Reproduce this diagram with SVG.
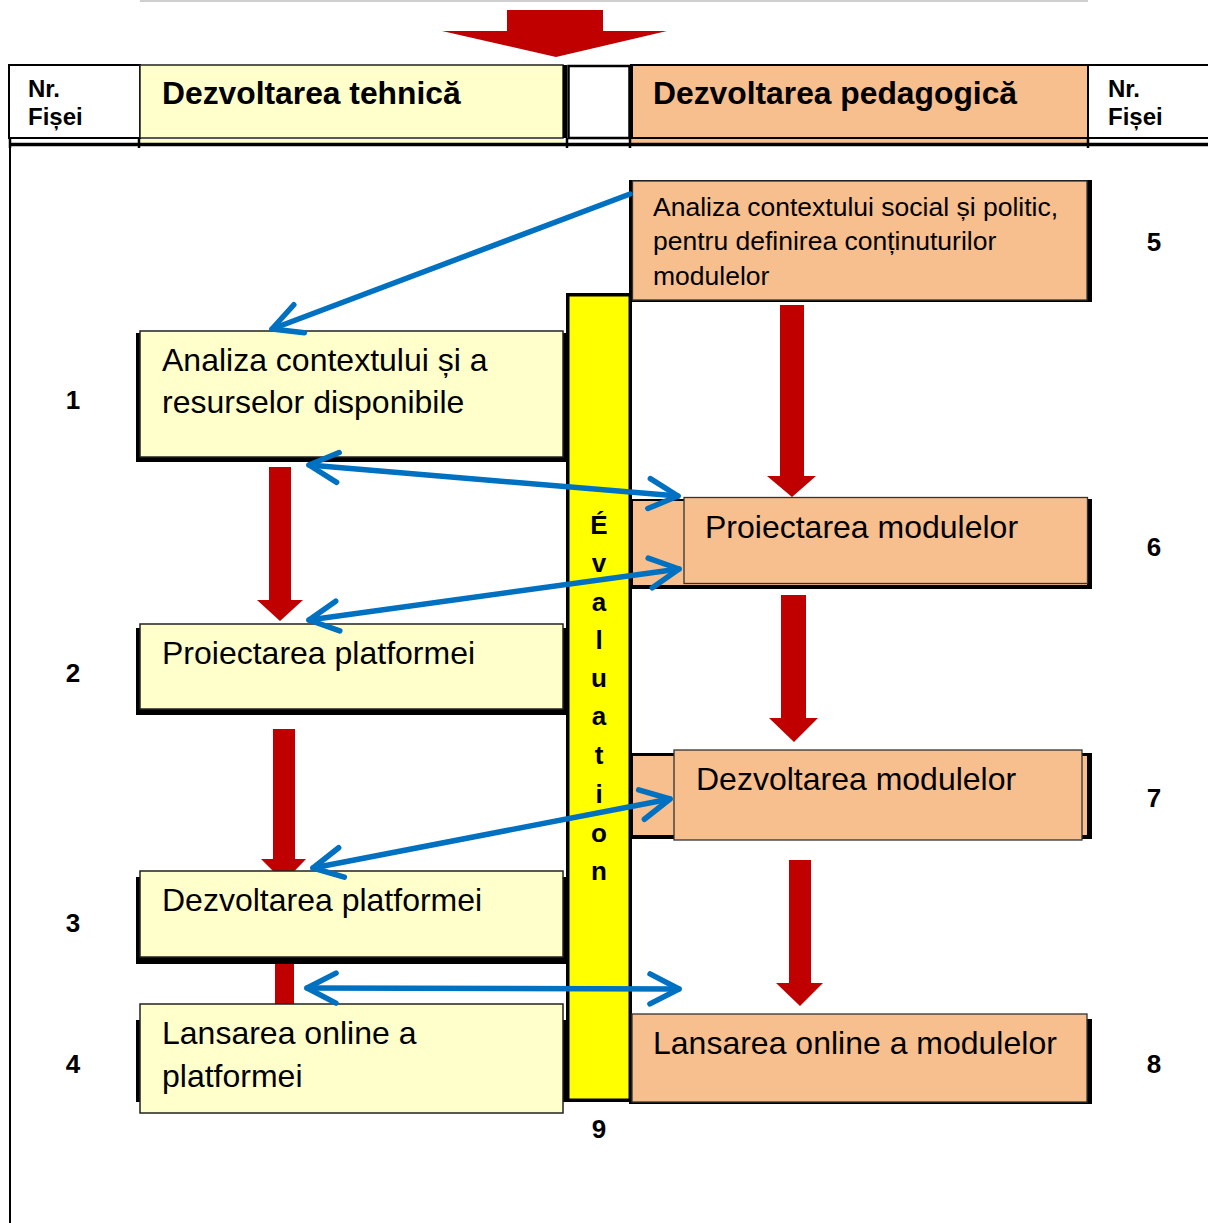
<svg xmlns="http://www.w3.org/2000/svg" width="1208" height="1223" viewBox="0 0 1208 1223">
<defs>
<style>
.t{font-family:"Liberation Sans",Arial,sans-serif;fill:#000}
.body{font-size:32px}
.small{font-size:26.5px}
.hd{font-size:31.8px;font-weight:bold}
.nr{font-size:24px;font-weight:bold}
.num{font-size:26px;font-weight:bold;text-anchor:middle}
.ev{font-size:26px;font-weight:bold;text-anchor:middle}
.yb{fill:#FFFFCC;stroke:#222;stroke-width:1.5}
.ob{fill:#F7BE8E;stroke:#333;stroke-width:1.3}
.blk{fill:#000}
.red{fill:#C00000}
.blue{fill:none;stroke:#0070C0;stroke-width:5.5;stroke-linecap:round;marker-end:url(#chev)}
.dbl{marker-start:url(#chev)}
</style>
<marker id="chev" markerUnits="userSpaceOnUse" viewBox="-34 -20 40 40" markerWidth="40" markerHeight="40" refX="0" refY="0" orient="auto-start-reverse" overflow="visible">
<path d="M-29,-15 L0,0 L-29,15" fill="none" stroke="#0070C0" stroke-width="5.5" stroke-linecap="round" stroke-linejoin="round"/>
</marker>
</defs>
<rect x="0" y="0" width="1208" height="1223" fill="#fff"/>
<line x1="140" y1="1" x2="1088" y2="1" stroke="#cfcfcf" stroke-width="2"/>

<g id="connectors-red">
<polygon class="red" points="507,10 603,10 603,31 667,31 556,57 442,31 507,31"/>
<polygon class="red" points="269,467 291,467 291,600 303,600 280,621 257,600 269,600"/>
<polygon class="red" points="273,729 295,729 295,859 306,859 284,882 261,859 273,859"/>
<rect class="red" x="275" y="960" width="19" height="46"/>
<polygon class="red" points="780,305 804,305 804,476 816,476 792,497 767,476 780,476"/>
<polygon class="red" points="781,595 806,595 806,718 818,718 794,742 769,718 781,718"/>
<polygon class="red" points="789,860 811,860 811,983 823,983 800,1006 776,983 789,983"/>
</g>

<g id="header">
<rect x="9" y="65" width="131" height="73" fill="#fff" stroke="#000" stroke-width="2"/>
<rect x="140" y="65" width="423" height="73" fill="#FFFFCC" stroke="#222" stroke-width="1.5"/>
<rect x="563" y="65" width="4" height="73" fill="#000"/>
<rect x="568.5" y="66" width="61" height="72" fill="#fff" stroke="#000" stroke-width="2.5"/>
<rect x="631" y="65" width="457" height="73" fill="#F7BE8E" stroke="#000" stroke-width="2"/>
<rect x="630" y="65" width="3" height="73" fill="#000"/>
<rect x="1088" y="65" width="125" height="73" fill="#fff" stroke="#000" stroke-width="2"/>
<rect x="140" y="139" width="423" height="4" fill="#FFFFCC"/>
<rect x="631" y="139" width="457" height="4" fill="#F7BE8E"/>
<line x1="9" y1="144.5" x2="1208" y2="144.5" stroke="#000" stroke-width="3.5"/>
<g stroke="#000" stroke-width="2.5">
<line x1="10" y1="138" x2="10" y2="148"/><line x1="139" y1="138" x2="139" y2="148"/>
<line x1="567" y1="138" x2="567" y2="148"/><line x1="630" y1="138" x2="630" y2="148"/>
<line x1="1088" y1="138" x2="1088" y2="148"/>
</g>
<text class="t nr" x="28" y="97">Nr.</text>
<text class="t nr" x="28" y="125">Fișei</text>
<text class="t hd" x="162" y="104">Dezvoltarea tehnică</text>
<text class="t hd" x="653" y="104">Dezvoltarea pedagogică</text>
<text class="t nr" x="1108" y="97">Nr.</text>
<text class="t nr" x="1108" y="125">Fișei</text>
</g>
<line x1="10" y1="146" x2="10" y2="1223" stroke="#000" stroke-width="2"/>

<g id="evaluation">
<rect x="567.75" y="294.75" width="62.5" height="805.5" fill="#FFFF00" stroke="#000" stroke-width="3.5"/>
<text class="t ev" x="599" y="534">É</text>
<text class="t ev" x="599" y="572">v</text>
<text class="t ev" x="599" y="611">a</text>
<text class="t ev" x="599" y="649">l</text>
<text class="t ev" x="599" y="687">u</text>
<text class="t ev" x="599" y="725">a</text>
<text class="t ev" x="599" y="764">t</text>
<text class="t ev" x="599" y="803">i</text>
<text class="t ev" x="599" y="842">o</text>
<text class="t ev" x="599" y="880">n</text>
<text class="t num" x="599" y="1138">9</text>
</g>

<g id="node1">
<rect class="blk" x="136" y="333" width="431" height="129"/>
<rect class="yb" x="140" y="331" width="423" height="126"/>
<text class="t body" x="162" y="371">Analiza contextului și a</text>
<text class="t body" x="162" y="413">resurselor disponibile</text>
<text class="t num" x="73" y="409">1</text>
</g>
<g id="node2">
<rect class="blk" x="136" y="628" width="431" height="87"/>
<rect class="yb" x="140" y="624" width="423" height="85"/>
<text class="t body" x="162" y="664">Proiectarea platformei</text>
<text class="t num" x="73" y="682">2</text>
</g>
<g id="node3">
<rect class="blk" x="136" y="877" width="431" height="87"/>
<rect class="yb" x="140" y="871" width="423" height="86"/>
<text class="t body" x="162" y="911">Dezvoltarea platformei</text>
<text class="t num" x="73" y="932">3</text>
</g>
<g id="node4">
<rect class="blk" x="136" y="1020" width="431" height="82"/>
<rect class="yb" x="140" y="1004" width="423" height="109"/>
<text class="t body" x="162" y="1044">Lansarea online a</text>
<text class="t body" x="162" y="1087">platformei</text>
<text class="t num" x="73" y="1073">4</text>
</g>

<g id="node5">
<rect class="blk" x="629" y="180" width="463" height="122"/>
<rect class="ob" x="632.5" y="181" width="454.5" height="119"/>
<text class="t small" x="653" y="216">Analiza contextului social și politic,</text>
<text class="t small" x="653" y="250">pentru definirea conținuturilor</text>
<text class="t small" x="653" y="285">modulelor</text>
<text class="t num" x="1154" y="251">5</text>
</g>
<g id="node6">
<rect class="blk" x="629" y="499" width="463" height="90"/>
<rect x="633" y="501" width="454" height="84" fill="#F7BE8E"/>
<rect class="ob" x="684" y="497.5" width="403.5" height="86"/>
<text class="t body" x="705" y="538">Proiectarea modulelor</text>
<text class="t num" x="1154" y="556">6</text>
</g>
<g id="node7">
<rect class="blk" x="629" y="753" width="463" height="86"/>
<rect x="633" y="756" width="454" height="79" fill="#F7BE8E"/>
<rect class="ob" x="674" y="750" width="408" height="90"/>
<text class="t body" x="696" y="790">Dezvoltarea modulelor</text>
<text class="t num" x="1154" y="807">7</text>
</g>
<g id="node8">
<rect class="blk" x="629" y="1019" width="463" height="85"/>
<rect class="ob" x="632" y="1014" width="455" height="88"/>
<text class="t body" x="653" y="1054">Lansarea online a modulelor</text>
<text class="t num" x="1154" y="1073">8</text>
</g>

<g id="connectors-blue">
<line class="blue" x1="630" y1="194" x2="272" y2="329"/>
<line class="blue dbl" x1="309" y1="465" x2="678" y2="496"/>
<line class="blue dbl" x1="309" y1="620" x2="679" y2="569"/>
<line class="blue dbl" x1="313" y1="868" x2="670" y2="799"/>
<line class="blue dbl" x1="307" y1="988" x2="679" y2="989"/>
</g>
</svg>
